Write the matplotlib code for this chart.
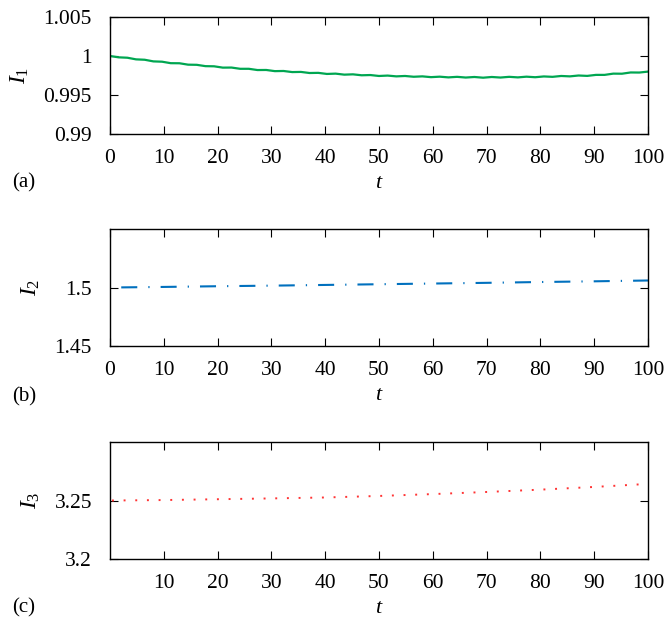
import matplotlib
matplotlib.use("Agg")
import matplotlib.pyplot as plt
import numpy as np

# --- data ---
t1 = np.linspace(0, 100, 63)
i1 = [1.00000, 0.99983, 0.99978, 0.99957, 0.99952, 0.99931, 0.99927, 0.99908,
      0.99907, 0.99889, 0.99887, 0.99870, 0.99868, 0.99851, 0.99852, 0.99836,
      0.99836, 0.99820, 0.99821, 0.99806, 0.99808, 0.99794, 0.99796, 0.99782,
      0.99784, 0.99770, 0.99774, 0.99761, 0.99765, 0.99753, 0.99756, 0.99744,
      0.99749, 0.99739, 0.99744, 0.99734, 0.99739, 0.99729, 0.99735, 0.99726,
      0.99733, 0.99724, 0.99731, 0.99722, 0.99731, 0.99724, 0.99733, 0.99726,
      0.99735, 0.99728, 0.99738, 0.99733, 0.99744, 0.99739, 0.99750, 0.99745,
      0.99758, 0.99758, 0.99774, 0.99773, 0.99789, 0.99788, 0.99800]

t23 = [0, 10, 20, 30, 40, 50, 60, 70, 80, 90, 100]
i2 = [1.5000, 1.5005, 1.5011, 1.5016, 1.5022, 1.5028, 1.5034, 1.5040, 1.5047, 1.5053, 1.5060]
i3 = [3.2500, 3.2504, 3.2511, 3.2518, 3.2526, 3.2539, 3.2555, 3.2573, 3.2593, 3.2616, 3.2642]

xticks_ab = [0, 10, 20, 30, 40, 50, 60, 70, 80, 90, 100]
xticks_c = [10, 20, 30, 40, 50, 60, 70, 80, 90, 100]

plt.rcParams["font.family"] = ["Liberation Serif", "DejaVu Serif"]
plt.rcParams["mathtext.fontset"] = "custom"
plt.rcParams["mathtext.it"] = "Liberation Serif:italic"
plt.rcParams["mathtext.rm"] = "Liberation Serif"
plt.rcParams["font.size"] = 15

fig = plt.figure(figsize=(6.65, 6.23), dpi=100)

boxes = [
    [0.1654, 0.7849, 0.809, 0.1878],
    [0.1654, 0.4446, 0.809, 0.1878],
    [0.1654, 0.1027, 0.809, 0.1878],
]


def style_axis(ax, xticks, yticks, ylim, ylabel, yticklabels=None):
    ax.set_xlim(0, 100)
    ax.set_ylim(*ylim)
    ax.set_xticks(xticks)
    ax.set_yticks(yticks)
    if yticklabels is not None:
        ax.set_yticklabels(yticklabels)
    ax.tick_params(direction="in", top=True, right=True, length=6, width=0.8,
                   labelsize=15.5)
    ax.tick_params(axis="y", pad=13)
    ax.tick_params(axis="x", pad=11)
    for s in ax.spines.values():
        s.set_linewidth(1.0)
    ax.set_ylabel(ylabel, fontsize=17, labelpad=9)
    ax.set_xlabel("$t$", fontsize=16, labelpad=4)


ax1 = fig.add_axes(boxes[0])
ax1.plot(t1, i1, color="#00A651", lw=1.6)
style_axis(ax1, xticks_ab, [0.99, 0.995, 1.0, 1.005], (0.99, 1.005), "$I_1$",
           ["0.99", "0.995", "1", "1.005"])

ax2 = fig.add_axes(boxes[1])
ax2.plot(t23, i2, color="#0070BE", lw=1.5, linestyle=(13.5, (7.7, 5.3, 0.6, 5.3)))
style_axis(ax2, xticks_ab, [1.45, 1.5], (1.45, 1.55), "$I_2$", ["1.45", "1.5"])

ax3 = fig.add_axes(boxes[2])
ax3.plot(t23, i3, color="#FF3333", lw=1.4, linestyle=(5.0, (1.0, 5.0)))
style_axis(ax3, xticks_c, [3.2, 3.25], (3.2, 3.3), "$I_3$", ["3.2", "3.25"])

for lab, y in [("(a)", 1 - 183 / 623), ("(b)", 1 - 397 / 623), ("(c)", 1 - 608 / 623)]:
    fig.text(0.018, y, lab, fontsize=15, va="center", ha="left")

fig.savefig("out.png", dpi=100)
